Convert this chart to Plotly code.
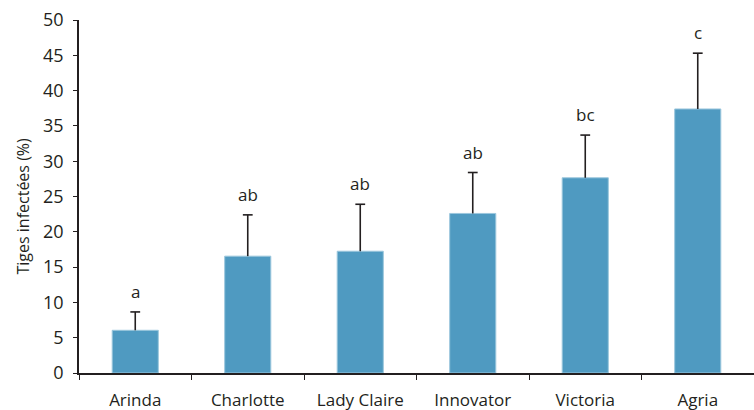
import plotly.graph_objects as go

categories = ["Arinda", "Charlotte", "Lady Claire", "Innovator", "Victoria", "Agria"]
values = [6.05, 16.55, 17.25, 22.6, 27.65, 37.4]
err_plus = [2.6, 5.85, 6.65, 5.8, 6.05, 7.9]
letters = ["a", "ab", "ab", "ab", "bc", "c"]

FONT = "Open Sans"
INK = "#231F20"
tops = [v + e for v, e in zip(values, err_plus)]

fig = go.Figure()
fig.add_trace(go.Bar(
    x=categories, y=values,
    marker=dict(color="#4F9AC1", line=dict(color="#9CC7DD", width=1)),
    width=0.41,
    error_y=dict(type="data", array=err_plus, symmetric=False, arrayminus=[0] * 6,
                 color=INK, thickness=1.6, width=0),
))
# caps on top of the error bars only
fig.add_trace(go.Scatter(
    x=categories, y=tops, mode="markers", hoverinfo="skip",
    marker=dict(symbol="line-ew", size=7, line=dict(color=INK, width=1.6)),
))
for c, t, lab in zip(categories, tops, letters):
    fig.add_annotation(x=c, y=t, text=lab, showarrow=False, yanchor="bottom",
                       yshift=7, font=dict(family=FONT, size=17, color=INK))

fig.add_annotation(text="Tiges infectées (%)", textangle=-90, showarrow=False,
                   xref="paper", yref="paper", x=0, y=0.5, xanchor="center", yanchor="middle",
                   xshift=-57, yshift=-10, font=dict(family=FONT, size=16, color=INK))

fig.update_layout(
    width=754, height=410,
    margin=dict(l=79, r=0, t=20, b=37, autoexpand=False),
    paper_bgcolor="white", plot_bgcolor="white",
    showlegend=False,
    font=dict(family=FONT, color=INK),
)
fig.update_xaxes(
    automargin=False,
    showline=True, linecolor=INK, linewidth=1.5,
    ticks="outside", tickson="boundaries", ticklen=5, tickcolor=INK,
    tickfont=dict(family=FONT, size=17, color=INK),
    ticklabelstandoff=11, showgrid=False,
)
fig.update_yaxes(
    automargin=False,
    range=[0, 50], dtick=5, showline=True, linecolor=INK, linewidth=1.5,
    ticks="outside", ticklen=4, tickcolor=INK,
    tickfont=dict(family=FONT, size=18, color=INK),
    ticklabelstandoff=6, showgrid=False, zeroline=False,
)
fig.write_html("out.html")
